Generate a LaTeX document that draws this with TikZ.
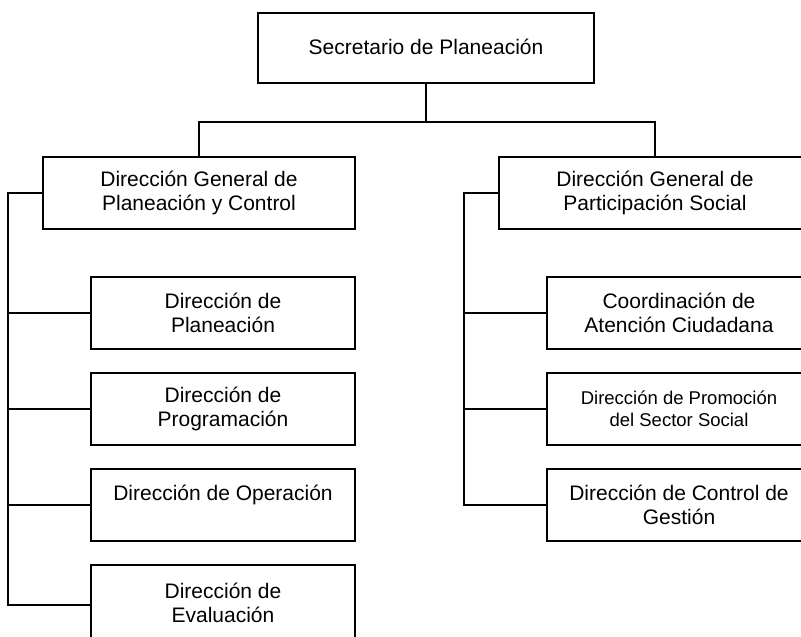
\documentclass[tikz,border=0pt]{standalone}
\usepackage{fontspec}
\setmainfont{Liberation Sans}
\tikzset{
  caja/.style={draw, line width=1.8pt, minimum width=264pt, minimum height=72pt,
    align=center, inner sep=0pt, font=\fontsize{21}{24}\selectfont},
  general/.style={caja, minimum width=312pt},
  linea/.style={line width=1.8pt},
}
\begin{document}
\begin{tikzpicture}[x=1pt, y=-1pt]
\clip (0,0) rectangle (801,637);

\node[caja, minimum width=336pt, minimum height=70pt, text depth=3pt] (sec) at (426, 48) {Secretario de Planeación};

\node[general] (dgpc) at (199, 193) {Dirección General de\\Planeación y Control};
\node[general] (dgps) at (655, 193) {Dirección General de\\Participación Social};

\node[caja] (dpla) at (223, 313) {Dirección de\\Planeación};
\node[caja] (dpro) at (223, 409) {Dirección de\\Programación};
\node[caja] (dope) at (223, 505) {Dirección de Operación\\~};
\node[caja, minimum height=76pt] (deva) at (223, 603) {Dirección de\\Evaluación};

\node[caja] (cac)  at (679, 313) {Coordinación de\\Atención Ciudadana};
\node[caja, font=\fontsize{18.5}{22.5}\selectfont] (dpss) at (679, 409) {Dirección de Promoción\\del Sector Social};
\node[caja] (dcg)  at (679, 505) {Dirección de Control de\\Gestión};

\draw[linea] (sec.south) -- ++(0,38) -| (dgpc.north);
\draw[linea] (sec.south) -- ++(0,38) -| (dgps.north);

\draw[linea] (dgpc.west) -- ++(-34,0) |- (dpla.west);
\draw[linea] (dgpc.west) -- ++(-34,0) |- (dpro.west);
\draw[linea] (dgpc.west) -- ++(-34,0) |- (dope.west);
\draw[linea] (dgpc.west) -- ++(-34,0) |- ([yshift=-2pt]deva.west);

\draw[linea] (dgps.west) -- ++(-34,0) |- (cac.west);
\draw[linea] (dgps.west) -- ++(-34,0) |- (dpss.west);
\draw[linea] (dgps.west) -- ++(-34,0) |- (dcg.west);
\end{tikzpicture}
\end{document}
